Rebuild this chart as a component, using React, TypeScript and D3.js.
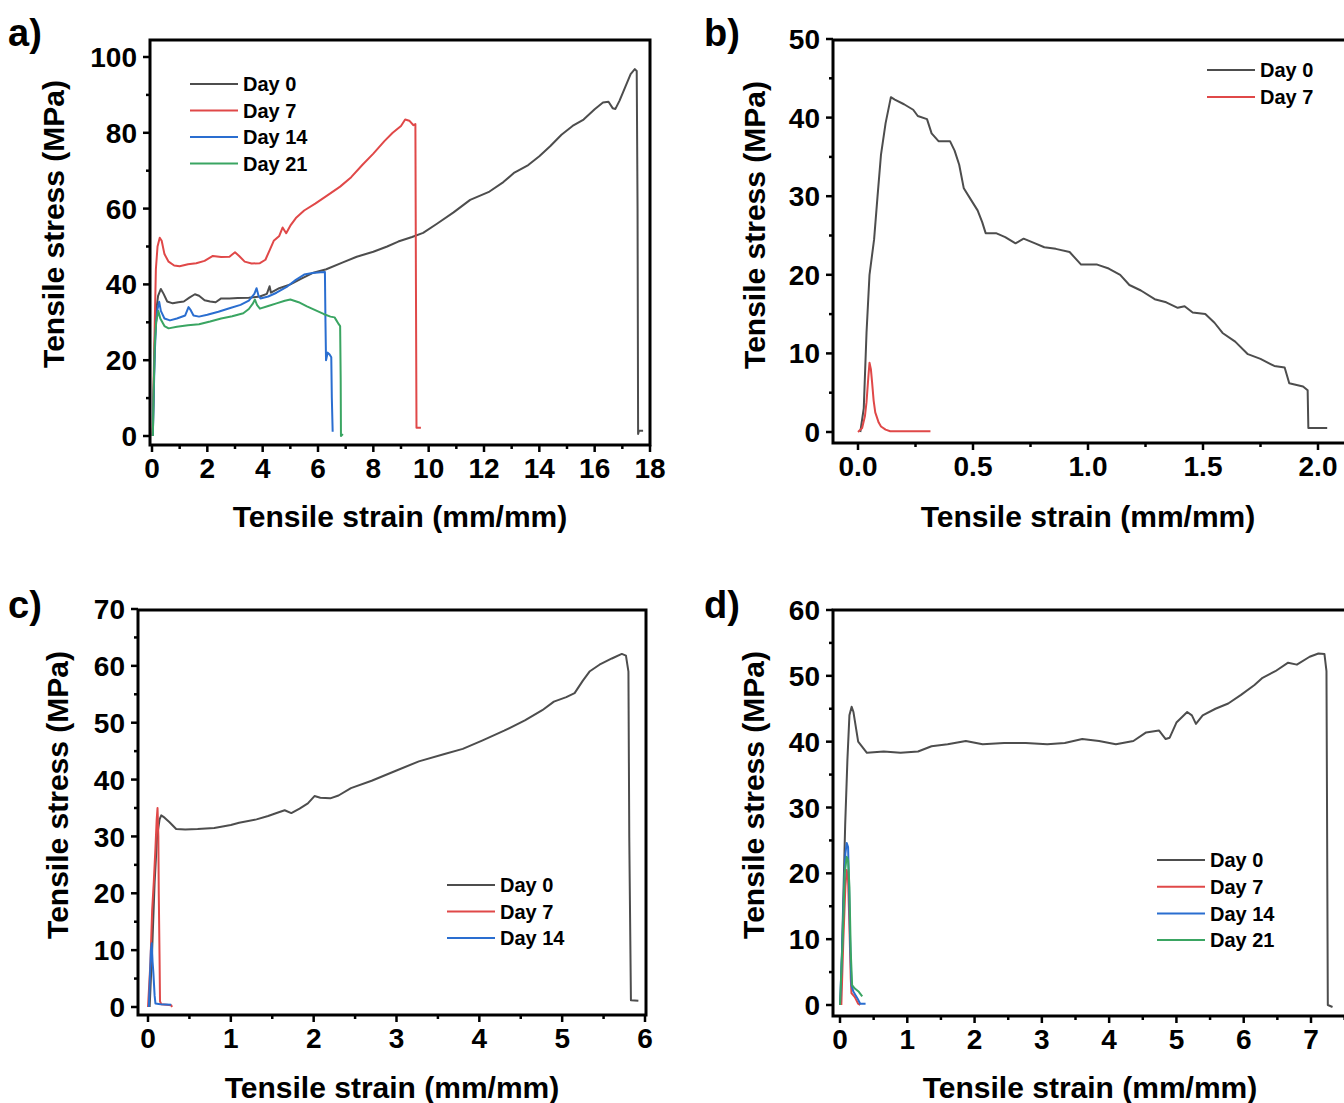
import React from "react";
import * as d3 from "d3";

type Pt = [number, number];

// ---------- Panel a ----------
const aDay0: Pt[] = [
  [0.03,0],[0.06,12],[0.1,25],[0.15,33],[0.22,37],[0.32,38.8],[0.42,37.5],[0.55,35.5],[0.75,35],[0.95,35.3],[1.15,35.5],[1.35,36.5],[1.55,37.4],[1.7,37],[1.9,35.8],[2.1,35.5],[2.3,35.3],[2.5,36.3],[2.8,36.3],[3.1,36.4],[3.5,36.5],[3.9,36.8],[4.15,37.5],[4.25,39.5],[4.3,37.8],[4.6,39],[5.0,40],[5.4,41.5],[5.8,43],[6.3,44],[6.9,45.8],[7.4,47.3],[8.0,48.6],[8.5,50],[8.9,51.3],[9.4,52.5],[9.8,53.6],[10.3,56],[10.9,59],[11.5,62.3],[12.2,64.5],[12.7,67],[13.1,69.5],[13.6,71.5],[14.0,73.8],[14.4,76.5],[14.8,79.5],[15.2,81.8],[15.6,83.5],[16.0,86.2],[16.3,88],[16.5,88.2],[16.65,86.5],[16.75,86.3],[16.9,88.5],[17.1,92],[17.3,95.5],[17.45,96.8],[17.52,96.3],[17.55,60],[17.57,0.5],[17.6,1.4],[17.75,1.4],
];
const aDay7: Pt[] = [
  [0.02,0],[0.06,15],[0.1,30],[0.14,44],[0.2,50],[0.28,52.3],[0.35,51.5],[0.45,48],[0.6,46],[0.8,45],[1.0,44.8],[1.3,45.3],[1.6,45.6],[1.9,46.2],[2.2,47.5],[2.5,47.2],[2.8,47.3],[3.0,48.5],[3.15,47.5],[3.35,46],[3.6,45.5],[3.9,45.6],[4.1,46.5],[4.25,49],[4.4,51.5],[4.6,52.8],[4.72,55],[4.85,53.5],[5.0,55.5],[5.2,57.5],[5.5,59.5],[5.9,61.3],[6.3,63.3],[6.8,65.8],[7.2,68.3],[7.6,71.5],[8.0,74.5],[8.4,77.8],[8.7,80],[9.0,81.8],[9.15,83.5],[9.3,83.2],[9.45,82],[9.52,82.3],[9.54,40],[9.56,2.2],[9.72,2.2],
];
const aDay14: Pt[] = [
  [0.03,0],[0.06,10],[0.1,22],[0.15,30],[0.2,33.5],[0.26,35.4],[0.32,33],[0.45,31],[0.65,30.5],[0.9,31],[1.2,31.8],[1.32,34],[1.4,33.2],[1.5,31.8],[1.7,31.5],[2.0,32],[2.4,32.8],[2.8,33.7],[3.2,34.6],[3.5,35.7],[3.7,37.5],[3.78,39],[3.85,37],[3.92,36.3],[4.2,36.8],[4.5,37.8],[4.9,39.5],[5.2,41.2],[5.5,42.6],[5.8,43],[6.1,43.2],[6.25,43.3],[6.27,30],[6.29,20],[6.35,22],[6.42,21.5],[6.48,20.8],[6.5,10],[6.53,1.1],
];
const aDay21: Pt[] = [
  [0.03,0],[0.06,12],[0.1,24],[0.15,30],[0.23,33],[0.3,31],[0.45,29],[0.6,28.4],[0.9,28.8],[1.3,29.2],[1.7,29.5],[2.1,30.2],[2.5,31],[2.9,31.6],[3.3,32.4],[3.5,33.5],[3.65,35],[3.72,36],[3.8,34.5],[3.9,33.6],[4.2,34.3],[4.5,35],[4.8,35.7],[5.0,36],[5.3,35.3],[5.6,34.2],[5.9,33.2],[6.2,32.2],[6.45,31.5],[6.6,31.3],[6.75,29.5],[6.8,29],[6.82,15],[6.83,0],[6.9,0.5],
];

// ---------- Panel b ----------
const bDay0: Pt[] = [
  [0.01,0],[0.025,3],[0.037,12.6],[0.05,20],[0.07,24.5],[0.085,30],[0.1,35.3],[0.12,39.3],[0.143,42.6],[0.16,42.3],[0.2,41.7],[0.24,41],[0.26,40.2],[0.3,39.8],[0.32,38],[0.35,37],[0.4,37],[0.42,35.8],[0.44,34],[0.46,31],[0.49,29.6],[0.52,28.2],[0.54,26.7],[0.555,25.3],[0.6,25.3],[0.64,24.8],[0.685,24],[0.72,24.6],[0.77,24],[0.81,23.5],[0.86,23.3],[0.92,22.9],[0.97,21.3],[1.04,21.3],[1.09,20.8],[1.14,20],[1.18,18.7],[1.23,18],[1.29,16.9],[1.34,16.5],[1.39,15.8],[1.42,16],[1.455,15.2],[1.51,15],[1.55,13.9],[1.585,12.6],[1.64,11.5],[1.695,9.9],[1.75,9.3],[1.81,8.4],[1.855,8.2],[1.875,6.2],[1.935,5.8],[1.955,5.3],[1.958,0.5],[2.04,0.5],
];
const bDay7: Pt[] = [
  [0,0],[0.018,0.5],[0.03,2],[0.037,3.8],[0.045,7],[0.05,8.8],[0.056,8],[0.061,6.4],[0.068,4],[0.075,2.5],[0.09,1.2],[0.1,0.7],[0.12,0.3],[0.14,0.1],[0.315,0.1],
];

// ---------- Panel c ----------
const cDay0: Pt[] = [
  [0.02,0],[0.05,10],[0.08,22],[0.11,30],[0.14,33],[0.16,33.7],[0.2,33.3],[0.26,32.5],[0.34,31.3],[0.45,31.2],[0.6,31.3],[0.8,31.5],[1.0,32],[1.1,32.4],[1.31,33],[1.45,33.6],[1.57,34.2],[1.65,34.6],[1.73,34.1],[1.83,34.9],[1.93,35.8],[2.01,37.1],[2.08,36.8],[2.2,36.7],[2.3,37.2],[2.45,38.5],[2.7,39.8],[3.0,41.6],[3.27,43.2],[3.58,44.5],[3.8,45.4],[4.04,46.9],[4.3,48.6],[4.55,50.4],[4.76,52.2],[4.9,53.7],[5.05,54.5],[5.15,55.2],[5.25,57.4],[5.33,59],[5.45,60.2],[5.6,61.3],[5.72,62.1],[5.77,61.8],[5.8,59],[5.81,30],[5.83,1.2],[5.92,1.1],
];
const cDay7: Pt[] = [
  [0.0,0],[0.03,8],[0.05,17],[0.07,22],[0.09,28],[0.105,33],[0.115,35],[0.125,30],[0.13,20],[0.14,8],[0.145,1],[0.16,0.5],[0.28,0.3],[0.29,0],
];
const cDay14: Pt[] = [
  [0.01,0],[0.02,4],[0.035,10],[0.045,11.2],[0.055,8],[0.065,6],[0.08,2],[0.09,0.6],[0.15,0.5],[0.28,0.4],
];

// ---------- Panel d ----------
const dDay0: Pt[] = [
  [0.01,0],[0.045,14.5],[0.077,27.4],[0.11,37.2],[0.14,44],[0.173,45.3],[0.2,44.5],[0.27,40],[0.4,38.3],[0.65,38.5],[0.9,38.3],[1.16,38.5],[1.36,39.3],[1.6,39.6],[1.87,40.1],[2.12,39.6],[2.44,39.8],[2.76,39.8],[3.08,39.6],[3.34,39.8],[3.6,40.4],[3.85,40.1],[4.1,39.6],[4.36,40.1],[4.55,41.4],[4.74,41.7],[4.84,40.4],[4.9,40.6],[5.0,42.9],[5.16,44.5],[5.23,44],[5.29,42.7],[5.39,44],[5.58,45],[5.77,45.8],[5.96,47.1],[6.16,48.6],[6.28,49.7],[6.47,50.7],[6.66,52],[6.79,51.7],[6.98,52.9],[7.11,53.4],[7.2,53.3],[7.23,50.7],[7.25,0],[7.32,-0.3],
];
const dDay7: Pt[] = [
  [0.02,0],[0.05,10],[0.08,18],[0.1,20.5],[0.12,19],[0.14,12],[0.16,4],[0.17,1.8],[0.22,1.2],[0.27,0.2],[0.3,0],
];
const dDay14: Pt[] = [
  [0.0,0],[0.03,8],[0.06,18],[0.08,23],[0.1,24.6],[0.12,24],[0.13,20],[0.15,10],[0.17,3],[0.2,2],[0.26,1],[0.3,0.2],[0.38,0.2],
];
const dDay21: Pt[] = [
  [0.0,0],[0.04,10],[0.07,20],[0.1,22.5],[0.12,22],[0.14,18],[0.16,8],[0.18,3],[0.22,2.5],[0.28,2],[0.33,1.3],
];

const seriesNames = ["Day 0", "Day 7", "Day 14", "Day 21"];
const seriesColors = ["#4d4d4d", "#e04848", "#2a6ed0", "#3aa562"];

const aXTicks = [0, 2, 4, 6, 8, 10, 12, 14, 16, 18];
const aYTicks = [0, 20, 40, 60, 80, 100];
const bXTicks = [0, 0.5, 1.0, 1.5, 2.0];
const bYTicks = [0, 10, 20, 30, 40, 50];
const cXTicks = [0, 1, 2, 3, 4, 5, 6];
const cYTicks = [0, 10, 20, 30, 40, 50, 60, 70];
const dXTicks = [0, 1, 2, 3, 4, 5, 6, 7];
const dYTicks = [0, 10, 20, 30, 40, 50, 60];

const FONT = "'Liberation Sans', Arial, Helvetica, sans-serif";

interface PanelProps {
  label: string;
  labelX: number;
  labelY: number;
  frame: { l: number; t: number; r: number; b: number };
  xDomain: [number, number];
  xRange: [number, number];
  yDomain: [number, number];
  yRange: [number, number];
  xTicks: number[];
  yTicks: number[];
  xFmt: (v: number) => string;
  series: Pt[][];
  legend: { x1: number; y0: number; dy: number; n: number };
  xTitle: { x: number; y: number };
  yTitle: { x: number; y: number };
}

function Panel(p: PanelProps) {
  const x = d3.scaleLinear().domain(p.xDomain).range(p.xRange);
  const y = d3.scaleLinear().domain(p.yDomain).range(p.yRange);
  const line = d3
    .line<Pt>()
    .x((d) => x(d[0]))
    .y((d) => y(d[1]));
  const xStep = p.xTicks[1] - p.xTicks[0];
  const yStep = p.yTicks[1] - p.yTicks[0];
  const xMinor = p.xTicks.map((t) => t + xStep / 2).filter((v) => x(v) < p.frame.r - 2);
  const yMinor = p.yTicks.map((t) => t + yStep / 2).filter((v) => y(v) > p.frame.t + 2);
  const clipId = "clip-" + p.label.replace(/\W/g, "");
  const { l, t, r, b } = p.frame;
  return (
    <g>
      <defs>
        <clipPath id={clipId}>
          <rect x={l} y={t} width={r - l} height={b - t} />
        </clipPath>
      </defs>
      <text x={p.labelX} y={p.labelY} fontFamily={FONT} fontWeight="bold" fontSize={38} fill="#000">
        {p.label}
      </text>
      <g clipPath={`url(#${clipId})`}>
        {p.series.map((s, i) => (
          <path key={i} d={line(s) || ""} fill="none" stroke={seriesColors[i]} strokeWidth={2} strokeLinejoin="round" />
        ))}
      </g>
      <rect x={l} y={t} width={r - l} height={b - t} fill="none" stroke="#000" strokeWidth={3} />
      {p.yTicks.map((v) => (
        <g key={"y" + v}>
          <line x1={l - 7} x2={l} y1={y(v)} y2={y(v)} stroke="#000" strokeWidth={2.5} />
          <text x={l - 13} y={y(v)} dy="0.36em" textAnchor="end" fontFamily={FONT} fontWeight="bold" fontSize={28}>
            {v}
          </text>
        </g>
      ))}
      {yMinor.map((v) => (
        <line key={"ym" + v} x1={l - 4} x2={l} y1={y(v)} y2={y(v)} stroke="#000" strokeWidth={2.5} />
      ))}
      {p.xTicks.map((v) => (
        <g key={"x" + v}>
          <line x1={x(v)} x2={x(v)} y1={b} y2={b + 7} stroke="#000" strokeWidth={2.5} />
          <text x={x(v)} y={b + 33} textAnchor="middle" fontFamily={FONT} fontWeight="bold" fontSize={28}>
            {p.xFmt(v)}
          </text>
        </g>
      ))}
      {xMinor.map((v) => (
        <line key={"xm" + v} x1={x(v)} x2={x(v)} y1={b} y2={b + 4} stroke="#000" strokeWidth={2.5} />
      ))}
      <text x={p.xTitle.x} y={p.xTitle.y} textAnchor="middle" fontFamily={FONT} fontWeight="bold" fontSize={30}>
        Tensile strain (mm/mm)
      </text>
      <text
        transform={`translate(${p.yTitle.x},${p.yTitle.y}) rotate(-90)`}
        textAnchor="middle"
        fontFamily={FONT}
        fontWeight="bold"
        fontSize={30}
      >
        Tensile stress (MPa)
      </text>
      {seriesNames.slice(0, p.legend.n).map((name, i) => {
        const yy = p.legend.y0 + i * p.legend.dy;
        return (
          <g key={name}>
            <line x1={p.legend.x1} x2={p.legend.x1 + 48} y1={yy} y2={yy} stroke={seriesColors[i]} strokeWidth={2} />
            <text x={p.legend.x1 + 53} y={yy} dy="0.36em" fontFamily={FONT} fontWeight="bold" fontSize={20}>
              {name}
            </text>
          </g>
        );
      })}
    </g>
  );
}

export default function App() {
  const intFmt = (v: number) => String(v);
  const decFmt = d3.format(".1f");
  return (
    <svg
      width={1344}
      height={1103}
      style={{ position: "absolute", left: 0, top: 0, background: "#fff", display: "block" }}
    >
      <rect x={0} y={0} width={1344} height={1103} fill="#fff" />
      <Panel
        label="a)"
        labelX={8}
        labelY={46}
        frame={{ l: 150, t: 40, r: 650, b: 445 }}
        xDomain={[0, 18]}
        xRange={[152, 650]}
        yDomain={[0, 100]}
        yRange={[436, 57]}
        xTicks={aXTicks}
        yTicks={aYTicks}
        xFmt={intFmt}
        series={[aDay0, aDay7, aDay14, aDay21]}
        legend={{ x1: 190, y0: 84, dy: 26.5, n: 4 }}
        xTitle={{ x: 400, y: 527 }}
        yTitle={{ x: 64, y: 224 }}
      />
      <Panel
        label="b)"
        labelX={704}
        labelY={46}
        frame={{ l: 833, t: 40, r: 1348, b: 443 }}
        xDomain={[0, 2]}
        xRange={[858, 1318]}
        yDomain={[0, 50]}
        yRange={[432, 39]}
        xTicks={bXTicks}
        yTicks={bYTicks}
        xFmt={decFmt}
        series={[bDay0, bDay7]}
        legend={{ x1: 1207, y0: 70, dy: 27, n: 2 }}
        xTitle={{ x: 1088, y: 527 }}
        yTitle={{ x: 765, y: 225 }}
      />
      <Panel
        label="c)"
        labelX={8}
        labelY={618}
        frame={{ l: 138, t: 610, r: 646, b: 1015 }}
        xDomain={[0, 6]}
        xRange={[148, 645]}
        yDomain={[0, 70]}
        yRange={[1007, 609]}
        xTicks={cXTicks}
        yTicks={cYTicks}
        xFmt={intFmt}
        series={[cDay0, cDay7, cDay14]}
        legend={{ x1: 447, y0: 885, dy: 26.5, n: 3 }}
        xTitle={{ x: 392, y: 1098 }}
        yTitle={{ x: 68, y: 795 }}
      />
      <Panel
        label="d)"
        labelX={704}
        labelY={618}
        frame={{ l: 833, t: 610, r: 1348, b: 1016 }}
        xDomain={[0, 7]}
        xRange={[840, 1311]}
        yDomain={[0, 60]}
        yRange={[1005, 610]}
        xTicks={dXTicks}
        yTicks={dYTicks}
        xFmt={intFmt}
        series={[dDay0, dDay7, dDay14, dDay21]}
        legend={{ x1: 1157, y0: 860, dy: 26.7, n: 4 }}
        xTitle={{ x: 1090, y: 1098 }}
        yTitle={{ x: 764, y: 795 }}
      />
    </svg>
  );
}
